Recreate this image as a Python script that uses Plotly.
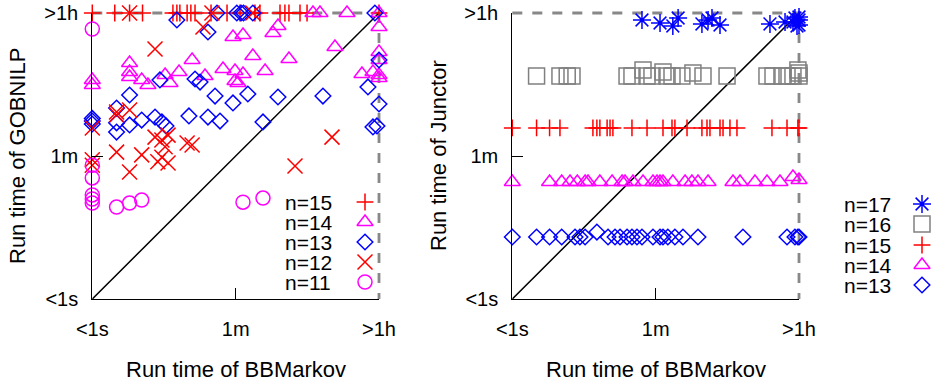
import math
import plotly.graph_objects as go

W, H = 934, 383

TICK_VALS = [1, 60, 3600]
TICK_TEXT = ["<1s", "1m", ">1h"]
T_MAX = 3600

# GOBNILP run time vs BBMarkov run time, seconds: (bbmarkov, gobnilp)
gob_n15 = [(1, 3600), (1.9, 3600), (2.9, 3600), (4.2, 3600), (10, 3600), (11.2, 3600),
           (12.2, 3600), (15, 3600), (16.7, 3600), (18.8, 3600), (29.7, 3600), (46.9, 3600),
           (68, 3600), (104, 3600), (120, 3600), (213, 3600), (245, 3600), (275, 3600),
           (377, 3600), (461, 3600), (3600, 3600)]
gob_n14 = [(1, 529), (1, 458), (546, 3600), (667, 3600), (1442, 3600), (3600, 3600),
           (55.6, 1811), (74, 1919), (174, 2031), (201, 2483), (1023, 1361), (98, 1052),
           (275, 964), (17.3, 937), (2.9, 859), (2.9, 665), (2.9, 576), (4.1, 529),
           (4.9, 458), (8.0, 610), (9.2, 485), (11.9, 665), (25, 593), (41.8, 724),
           (58.9, 684), (74, 628), (139, 684), (58.9, 514), (64.1, 485), (2213, 628),
           (3030, 665), (3600, 610), (3600, 560), (3600, 1179), (3600, 937), (3600, 2411)]
gob_n13 = [(35.2, 3600), (62, 3600), (70, 3600), (75, 3600), (98, 3600), (3200, 3600),
           (11.2, 2946), (27.2, 2090), (6.9, 529), (18.8, 544), (21.7, 499), (2.9, 344),
           (33.3, 334), (55.6, 274), (85, 354), (201, 325), (726, 334), (2626, 433),
           (3600, 937), (3600, 266), (3396, 142), (3030, 138), (2.0, 237), (2.0, 155),
           (2.0, 119), (2.9, 146), (4.1, 168), (6.0, 183), (7.3, 159), (8.2, 142),
           (15.8, 189), (27.2, 183), (38.4, 163), (131, 159), (1, 176), (1, 163), (1, 150)]
gob_n12 = [(23.6, 2411), (6.0, 1285), (2.9, 3600), (30.5, 3600), (98, 3600), (2.0, 212),
           (2.0, 194), (2.9, 224), (1, 134), (6.0, 103), (7.3, 95), (8.7, 109), (8.0, 78),
           (15, 87), (17.3, 82), (940, 103), (2.0, 67), (4.1, 62), (7.3, 58), (6.5, 51),
           (8.7, 49), (2.9, 38), (327, 45), (1, 54), (1, 46)]
gob_n11 = [(1, 2277), (1, 46), (1, 32), (1, 19.7), (1, 17.5), (1, 15.6), (2.0, 13.9),
           (2.9, 15.6), (4.1, 17), (74, 16), (131, 18)]

# Junctor run time vs BBMarkov run time, seconds: (bbmarkov, junctor)
jun_n17 = [(40.6, 2946), (68, 2704), (98, 2483), (114, 3119), (225, 2630), (268, 2946),
           (300, 3119), (377, 2553), (1571, 2630), (2415, 2782), (3030, 2782), (3206, 3119),
           (3400, 2483), (3600, 2946), (3600, 2553), (3600, 3212)]
jun_n16 = [(2.0, 593), (3.9, 593), (4.8, 593), (5.5, 593), (26.5, 593), (30.5, 593),
           (41.8, 705), (46.9, 593), (54, 593), (74, 665), (83, 593), (95.7, 593),
           (127, 593), (174, 646), (232, 593), (461, 593), (1442, 593), (1713, 593),
           (2213, 593), (2555, 593), (3030, 593), (3490, 705), (3600, 593), (3600, 646)]
jun_n15 = [(1, 134), (2.0, 134), (2.9, 134), (3.9, 134), (10, 134), (11.2, 134),
           (12.2, 134), (15, 134), (16.3, 134), (17.7, 134), (30.5, 134), (46.9, 134),
           (74, 134), (95.7, 134), (104, 134), (147, 134), (225, 134), (260, 134),
           (283, 134), (377, 134), (411, 134), (501, 134), (612, 134), (1663, 134),
           (2555, 134), (3490, 134), (3600, 134)]
jun_n14 = [(1, 28.5), (2.9, 28.5), (4.1, 28.5), (5.2, 28.5), (6.4, 28.5), (8.0, 28.5),
           (8.7, 28.5), (12.2, 28.5), (17.3, 28.5), (23, 28.5), (25, 28.5), (31.4, 28.5),
           (41.8, 28.5), (55.6, 28.5), (62.4, 28.5), (68, 28.5), (74, 28.5), (98, 28.5),
           (139, 28.5), (169, 28.5), (201, 28.5), (268, 28.5), (546, 28.5), (667, 28.5),
           (1023, 28.5), (1442, 28.5), (2090, 28.5), (3030, 32.9), (3600, 30.2)]
jun_n13 = [(1, 5.9), (2.0, 5.9), (2.9, 5.9), (4.1, 5.9), (6.0, 5.9), (6.9, 5.9), (8.0, 5.9),
           (11.2, 6.8), (15.4, 5.9), (18.8, 5.9), (21.7, 5.9), (26.5, 5.9), (30.5, 5.9),
           (35.2, 5.9), (40.6, 5.9), (55.6, 5.9), (68, 5.9), (74, 5.9), (85, 5.9),
           (104, 5.9), (131, 5.9), (201, 5.9), (726, 5.9), (2555, 5.9), (3206, 5.9),
           (3490, 5.9), (3600, 5.9)]

LEFT_SERIES = [("n=15", 15, gob_n15), ("n=14", 14, gob_n14), ("n=13", 13, gob_n13),
               ("n=12", 12, gob_n12), ("n=11", 11, gob_n11)]
RIGHT_SERIES = [("n=17", 17, jun_n17), ("n=16", 16, jun_n16), ("n=15", 15, jun_n15),
                ("n=14", 14, jun_n14), ("n=13", 13, jun_n13)]

RED, MAGENTA, BLUE, GRAY = "#ff0000", "#ff00ff", "#0000ff", "#808080"
STYLE = {
    17: dict(symbol="asterisk-open", color=BLUE, size=15),
    16: dict(symbol="square-open", color=GRAY, size=16),
    15: dict(symbol="cross-thin-open", color=RED, size=12),
    14: dict(symbol="triangle-up-open", color=MAGENTA, size=14),
    13: dict(symbol="diamond-open", color=BLUE, size=12),
    12: dict(symbol="x-thin-open", color=RED, size=15),
    11: dict(symbol="circle-open", color=MAGENTA, size=14),
}

FONT = "Liberation Sans, Arial, sans-serif"

# plot-area edges in pixels
LEFT_X = (92.3, 379.0)
RIGHT_X = (512.3, 799.0)
PLOT_TOP, PLOT_BOTTOM = 13.0, 299.0


def marker(n):
    s = STYLE[n]
    return dict(symbol=s["symbol"], size=s["size"], color=s["color"],
                line=dict(color=s["color"], width=1.5))


fig = go.Figure()

panels = [("x", "y", LEFT_SERIES), ("x2", "y2", RIGHT_SERIES)]
for xa, ya, series in panels:
    # equal run time diagonal
    fig.add_trace(go.Scatter(x=[1, T_MAX], y=[1, T_MAX], mode="lines",
                             line=dict(color="black", width=1.5),
                             xaxis=xa, yaxis=ya, hoverinfo="skip", showlegend=False))
    for label, n, pts in series:
        xs = [p[0] for p in pts]
        ys = [p[1] for p in pts]
        fig.add_trace(go.Scatter(x=xs, y=ys, mode="markers", name=label,
                                 marker=marker(n), cliponaxis=False,
                                 xaxis=xa, yaxis=ya, showlegend=False))

# dashed timeout borders along the top and right edges of each panel
shapes = []
BORDER = dict(color="#888888", width=2.8, dash="10px,10px")
for x0, x1 in (LEFT_X, RIGHT_X):
    shapes.append(dict(type="line", xref="paper", yref="paper", layer="below",
                       x0=x0 / W, x1=x1 / W, y0=1 - PLOT_TOP / H, y1=1 - PLOT_TOP / H,
                       line=BORDER))
    shapes.append(dict(type="line", xref="paper", yref="paper", layer="below",
                       x0=x1 / W, x1=x1 / W, y0=1 - PLOT_TOP / H, y1=1 - PLOT_BOTTOM / H,
                       line=BORDER))

# legend keys drawn on a pixel-space overlay
LEG_LEFT = dict(text_x=283, key_x=365, rows=[202, 222, 242, 262, 282])
LEG_RIGHT = dict(text_x=842, key_x=922, rows=[204, 224, 245, 265, 285])
annotations = []
for leg, series in [(LEG_LEFT, LEFT_SERIES), (LEG_RIGHT, RIGHT_SERIES)]:
    for (label, n, _), row in zip(series, leg["rows"]):
        fig.add_trace(go.Scatter(x=[leg["key_x"]], y=[row], mode="markers",
                                 marker=marker(n), cliponaxis=False,
                                 xaxis="x3", yaxis="y3", hoverinfo="skip",
                                 showlegend=False))
        annotations.append(dict(text=label, x=leg["text_x"] / W, y=1 - row / H,
                                xref="paper", yref="paper", xanchor="left",
                                yanchor="middle", showarrow=False,
                                font=dict(family=FONT, size=21, color="black")))

TITLE_FONT = dict(family=FONT, size=22, color="black")
for text, x, y, angle in [("Run time of BBMarkov", 236, 369, 0),
                          ("Run time of BBMarkov", 656, 369, 0),
                          ("Run time of GOBNILP", 17, 156, -90),
                          ("Run time of Junctor", 438, 156, -90)]:
    annotations.append(dict(text=text, x=x / W, y=1 - y / H, xref="paper", yref="paper",
                            xanchor="center", yanchor="middle", showarrow=False,
                            textangle=angle, font=TITLE_FONT))

LOG_RANGE = [0, math.log10(T_MAX)]
Y_DOMAIN = [(H - PLOT_BOTTOM) / H, (H - PLOT_TOP) / H]


def time_axis(domain, anchor, standoff):
    return dict(type="log", range=LOG_RANGE, domain=domain, anchor=anchor,
                tickvals=TICK_VALS, ticktext=TICK_TEXT, ticks="inside", ticklen=11,
                tickcolor="black", tickwidth=1, showline=True, linecolor="black",
                linewidth=1.2, showgrid=False, zeroline=False, automargin=False,
                ticklabelstandoff=standoff,
                tickfont=dict(family=FONT, size=20, color="black"))


fig.update_layout(
    width=W, height=H, autosize=False,
    margin=dict(l=0, r=0, t=0, b=0, pad=0),
    paper_bgcolor="white", plot_bgcolor="rgba(0,0,0,0)",
    showlegend=False,
    xaxis=time_axis([LEFT_X[0] / W, LEFT_X[1] / W], "y", 12),
    yaxis=time_axis(Y_DOMAIN, "x", 9),
    xaxis2=time_axis([RIGHT_X[0] / W, RIGHT_X[1] / W], "y2", 12),
    yaxis2=time_axis(Y_DOMAIN, "x2", 9),
    xaxis3=dict(domain=[0, 1], range=[0, W], anchor="y3", visible=False, fixedrange=True),
    yaxis3=dict(domain=[0, 1], range=[H, 0], anchor="x3", visible=False, fixedrange=True),
    shapes=shapes,
    annotations=annotations,
)

fig.write_html("out.html")
